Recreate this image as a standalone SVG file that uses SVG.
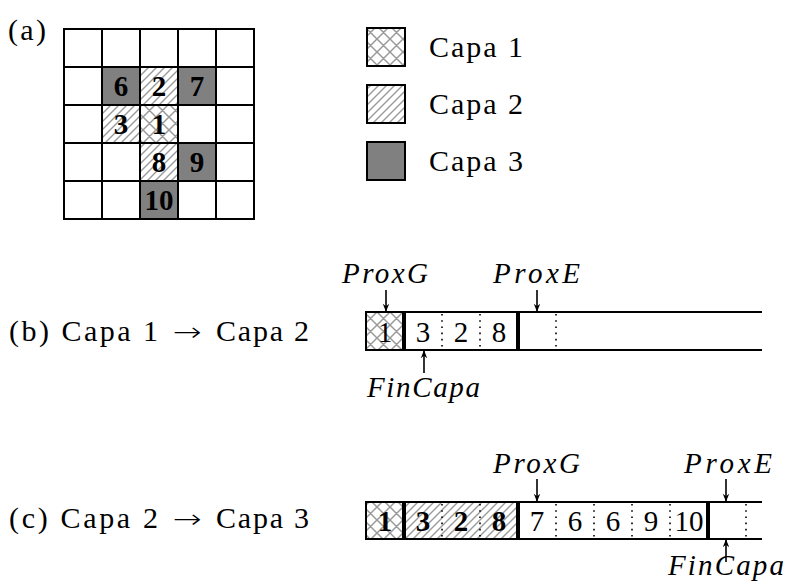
<svg xmlns="http://www.w3.org/2000/svg" width="788" height="588" viewBox="0 0 788 588">
<defs>
<pattern id="hatch" patternUnits="userSpaceOnUse" width="8" height="8">
<path d="M-2,2 L2,-2 M0,8 L8,0 M6,10 L10,6" stroke="#9a9a9a" stroke-width="1.4"/>
</pattern>
<pattern id="cross" patternUnits="userSpaceOnUse" width="13" height="13" x="0" y="0">
<path d="M-3,3 L3,-3 M0,13 L13,0 M10,16 L16,10 M-3,10 L3,16 M0,0 L13,13 M10,-3 L16,3" stroke="#9a9a9a" stroke-width="1.5"/>
</pattern>
<marker id="arr" viewBox="0 0 10 10" refX="9" refY="5" markerWidth="8" markerHeight="8" markerUnits="userSpaceOnUse" orient="auto">
<path d="M0,1 L10,5 L0,9 L3,5 Z" fill="#000"/>
</marker>
</defs>
<style>
text{font-family:"Liberation Serif","Times New Roman",serif;fill:#000}
.lbl{font-size:30px}
.ar2{font-family:"DejaVu Sans",sans-serif;font-size:26px;font-weight:200}
.num{font-size:29px;font-weight:bold;text-anchor:middle}
.cnum{font-size:29px;text-anchor:middle}
.it{font-size:29px;font-style:italic}
.dark{fill:#808080}
.thin{stroke:#000;stroke-width:2;fill:none}
.thick{stroke:#000;stroke-width:4}
.dot{stroke:#000;stroke-width:1.6;stroke-dasharray:1.6 4.6}
.ar{stroke:#000;stroke-width:1.6;marker-end:url(#arr)}
</style>
<rect width="788" height="588" fill="#fff"/>

<text class="lbl" x="8" y="40" textLength="38">(a)</text>

<g id="grid">
<rect x="64" y="29" width="190" height="190" fill="#fff"/>
<rect x="102" y="67" width="38" height="38" class="dark"/>
<rect x="140" y="67" width="38" height="38" fill="url(#hatch)"/>
<rect x="178" y="67" width="38" height="38" class="dark"/>
<rect x="102" y="105" width="38" height="38" fill="url(#hatch)"/>
<rect x="140" y="105" width="38" height="38" fill="url(#cross)"/>
<rect x="140" y="143" width="38" height="38" fill="url(#hatch)"/>
<rect x="178" y="143" width="38" height="38" class="dark"/>
<rect x="140" y="181" width="38" height="38" class="dark"/>
<path class="thin" d="M64,29 H254 V219 H64 Z M64,67 H254 M64,105 H254 M64,143 H254 M64,181 H254 M102,29 V219 M140,29 V219 M178,29 V219 M216,29 V219"/>
<text class="num" x="121" y="96">6</text>
<text class="num" x="159" y="96">2</text>
<text class="num" x="197" y="96">7</text>
<text class="num" x="121" y="134">3</text>
<text class="num" x="159" y="134">1</text>
<text class="num" x="159" y="172">8</text>
<text class="num" x="197" y="172">9</text>
<text class="num" x="159" y="210">10</text>
</g>

<g id="legend">
<rect x="367" y="28" width="38" height="38" fill="url(#cross)" stroke="#000" stroke-width="2"/>
<text class="lbl" x="429" y="57" textLength="94">Capa 1</text>
<rect x="367" y="85" width="38" height="38" fill="url(#hatch)" stroke="#000" stroke-width="2"/>
<text class="lbl" x="429" y="114" textLength="94">Capa 2</text>
<rect x="367" y="142" width="38" height="38" fill="#808080" stroke="#000" stroke-width="2"/>
<text class="lbl" x="429" y="171" textLength="94">Capa 3</text>
</g>

<text class="lbl" x="9" y="341" textLength="149">(b) Capa 1</text>
<text class="ar2" x="173" y="341" textLength="29" lengthAdjust="spacingAndGlyphs">→</text>
<text class="lbl" x="216" y="341" textLength="93">Capa 2</text>
<g id="barB">
<rect x="366" y="312" width="38" height="38" fill="url(#cross)"/>
<path class="thin" d="M762,312 H366 V350 H762"/>
<line class="thick" x1="404" y1="311" x2="404" y2="351"/>
<line class="thick" x1="518" y1="311" x2="518" y2="351"/>
<line class="dot" x1="442" y1="314" x2="442" y2="350"/>
<line class="dot" x1="480" y1="314" x2="480" y2="350"/>
<line class="dot" x1="556" y1="314" x2="556" y2="350"/>
<text class="cnum" x="385" y="342">1</text>
<text class="cnum" x="423" y="342">3</text>
<text class="cnum" x="461" y="342">2</text>
<text class="cnum" x="499" y="342">8</text>
</g>
<g id="connectorsB">
<line class="ar" x1="386" y1="290" x2="386" y2="311"/>
<line class="ar" x1="537" y1="290" x2="537" y2="311"/>
<line class="ar" x1="424" y1="373" x2="424" y2="351"/>
</g>
<text class="it" x="342" y="283" textLength="86">ProxG</text>
<text class="it" x="493" y="283" textLength="87">ProxE</text>
<text class="it" x="367" y="397" textLength="113">FinCapa</text>

<text class="lbl" x="9" y="528" textLength="149">(c) Capa 2</text>
<text class="ar2" x="173" y="528" textLength="29" lengthAdjust="spacingAndGlyphs">→</text>
<text class="lbl" x="216" y="528" textLength="93">Capa 3</text>
<g id="barC">
<rect x="366" y="502" width="38" height="37" fill="url(#cross)"/>
<rect x="404" y="502" width="114" height="37" fill="url(#hatch)"/>
<path class="thin" d="M762,502 H366 V539 H762"/>
<line class="thick" x1="404" y1="501" x2="404" y2="540"/>
<line class="thick" x1="518" y1="501" x2="518" y2="540"/>
<line class="thick" x1="708" y1="501" x2="708" y2="540"/>
<line class="dot" x1="442" y1="504" x2="442" y2="539"/>
<line class="dot" x1="480" y1="504" x2="480" y2="539"/>
<line class="dot" x1="556" y1="504" x2="556" y2="539"/>
<line class="dot" x1="594" y1="504" x2="594" y2="539"/>
<line class="dot" x1="632" y1="504" x2="632" y2="539"/>
<line class="dot" x1="670" y1="504" x2="670" y2="539"/>
<line class="dot" x1="746" y1="504" x2="746" y2="539"/>
<text class="num" x="385" y="531">1</text>
<text class="num" x="423" y="531">3</text>
<text class="num" x="461" y="531">2</text>
<text class="num" x="499" y="531">8</text>
<text class="cnum" x="537" y="531">7</text>
<text class="cnum" x="575" y="531">6</text>
<text class="cnum" x="613" y="531">6</text>
<text class="cnum" x="651" y="531">9</text>
<text class="cnum" x="689" y="531">10</text>
</g>
<g id="connectorsC">
<line class="ar" x1="537" y1="479" x2="537" y2="501"/>
<line class="ar" x1="726" y1="479" x2="726" y2="501"/>
<line class="ar" x1="726" y1="562" x2="726" y2="540"/>
</g>
<text class="it" x="493" y="473" textLength="87">ProxG</text>
<text class="it" x="684" y="473" textLength="88">ProxE</text>
<text class="it" x="668" y="575" textLength="116">FinCapa</text>
</svg>
